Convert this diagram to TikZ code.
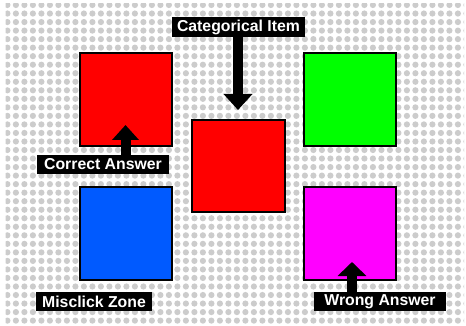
\documentclass[tikz,border=0pt]{standalone}
\usepackage{fontspec}
\setmainfont{Liberation Sans}
\usetikzlibrary{arrows.meta}
\definecolor{dotgray}{RGB}{204,204,204}
\definecolor{sqred}{RGB}{255,0,0}
\definecolor{sqgreen}{RGB}{0,255,0}
\definecolor{sqblue}{RGB}{0,90,255}
\definecolor{sqmag}{RGB}{255,0,255}
\tikzset{
  sq/.style={draw=black, line width=2pt, inner sep=0pt, minimum width=92pt, minimum height=93pt},
  lbl/.style={fill=black, text=white, inner sep=0pt, minimum height=19.5pt, font=\bfseries\fontsize{15.8}{16}\selectfont},
  bigarrow/.style={line width=10pt, -{Triangle[width=28pt,length=16pt]}}
}
\begin{document}
\begin{tikzpicture}[x=1pt,y=-1pt]
\useasboundingbox (0,0) rectangle (466,326);
\fill[white] (0,0) rectangle (466,326);
% dotted background
\begin{scope}
\clip (5.5,3.5) rectangle (464,323);
\foreach \i in {0,...,54}{
  \foreach \j in {0,...,37}{
    \fill[dotgray] ({7.4+8.5*\i},{5+8.53*\j}) circle (3.1);
  }
}
\end{scope}
% squares
\node[sq, fill=sqred]   (r1) at (126,99.5) {};
\node[sq, fill=sqgreen] (g)  at (350,99.5) {};
\node[sq, fill=sqblue]  (b)  at (126,233.5) {};
\node[sq, fill=sqmag]   (m)  at (350,233.5) {};
\node[sq, fill=sqred, minimum width=93pt, minimum height=92pt] (c) at (238.5,166) {};
% labels
\node[lbl, minimum width=133pt] (cat) at (238.5,27) {Categorical Item};
\node[lbl, minimum width=132pt] (cor) at (103,164.5) {Correct Answer};
\node[lbl, minimum width=116pt] (mis) at (94,301.5) {Misclick Zone};
\node[lbl, minimum width=132pt] (wr)  at (380,301.5) {Wrong Answer};
% arrow end points
\coordinate (catTip) at (238,110);
\coordinate (corTip) at (125.5,125);
\coordinate (wrTip)  at (352,262);
\draw[bigarrow] (cat.south -| catTip) -- (catTip);
\draw[bigarrow, -{Triangle[width=26pt,length=15pt]}] (cor.north -| corTip) -- (corTip);
\draw[bigarrow, -{Triangle[width=28pt,length=14pt]}] (wr.north -| wrTip) -- (wrTip);
\end{tikzpicture}
\end{document}
